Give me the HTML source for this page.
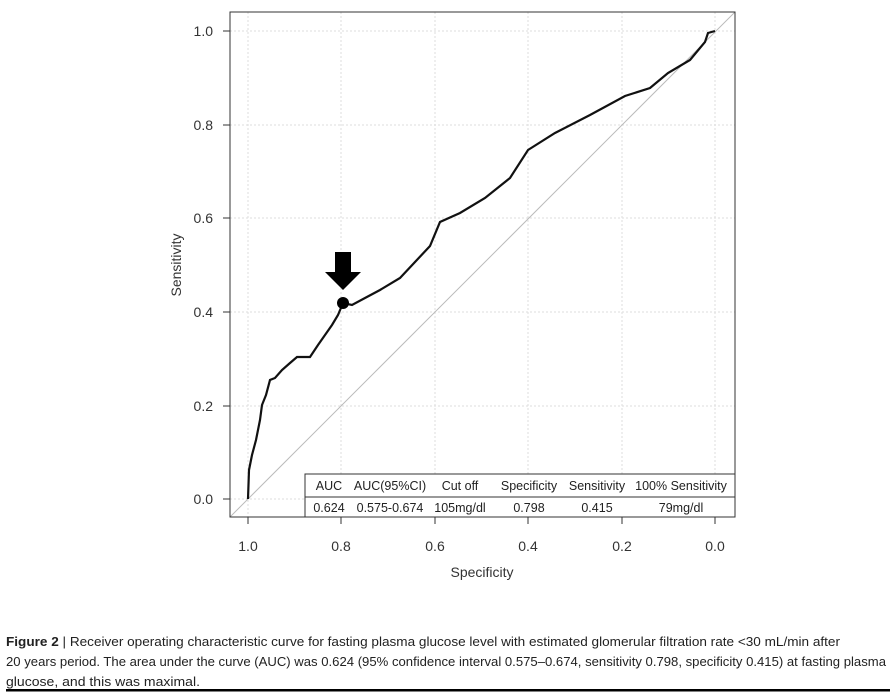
<!DOCTYPE html><html><head><style>body{margin:0;background:#fff;width:891px;height:694px;overflow:hidden}</style></head><body>
<svg width="891" height="694" xmlns="http://www.w3.org/2000/svg" font-family="Liberation Sans, sans-serif">
<g stroke="#ddd" stroke-dasharray="2,2" stroke-width="1">
<line x1="248" y1="12" x2="248" y2="517"/><line x1="341" y1="12" x2="341" y2="517"/><line x1="435" y1="12" x2="435" y2="517"/><line x1="528" y1="12" x2="528" y2="517"/><line x1="622" y1="12" x2="622" y2="517"/><line x1="715" y1="12" x2="715" y2="517"/>
<line x1="230" y1="31" x2="735" y2="31"/><line x1="230" y1="125" x2="735" y2="125"/><line x1="230" y1="218" x2="735" y2="218"/><line x1="230" y1="312" x2="735" y2="312"/><line x1="230" y1="406" x2="735" y2="406"/><line x1="230" y1="499" x2="735" y2="499"/>
</g>
<line x1="230" y1="517" x2="735" y2="12" stroke="#bbb"/>
<rect x="230" y="12" width="505" height="505" fill="none" stroke="#333"/>
<g stroke="#333">
<line x1="248" y1="517" x2="248" y2="524"/><line x1="341" y1="517" x2="341" y2="524"/><line x1="435" y1="517" x2="435" y2="524"/><line x1="528" y1="517" x2="528" y2="524"/><line x1="622" y1="517" x2="622" y2="524"/><line x1="715" y1="517" x2="715" y2="524"/>
<line x1="223" y1="31" x2="230" y2="31"/><line x1="223" y1="125" x2="230" y2="125"/><line x1="223" y1="218" x2="230" y2="218"/><line x1="223" y1="312" x2="230" y2="312"/><line x1="223" y1="406" x2="230" y2="406"/><line x1="223" y1="499" x2="230" y2="499"/>
</g>
<g font-size="14" fill="#333" text-anchor="middle">
<text x="248" y="551">1.0</text><text x="341" y="551">0.8</text><text x="435" y="551">0.6</text><text x="528" y="551">0.4</text><text x="622" y="551">0.2</text><text x="715" y="551">0.0</text>
<text x="482" y="577">Specificity</text>
</g>
<g font-size="14" fill="#333" text-anchor="end">
<text x="213" y="36">1.0</text><text x="213" y="130">0.8</text><text x="213" y="223">0.6</text><text x="213" y="317">0.4</text><text x="213" y="411">0.2</text><text x="213" y="504">0.0</text>
</g>
<text x="181" y="265" font-size="14" fill="#333" text-anchor="middle" transform="rotate(-90 181 265)">Sensitivity</text>
<polyline fill="none" stroke="#111" stroke-width="2.2" points="248,499 249,470 252,455 256,440 260,420 262,405 266,395 270,380 275,378 282,370 290,363 297,357 310,357 318,345 325,335 332,325 338,315 343,303 352,305 365,298 380,290 400,278 430,246 440,222 460,213 485,198 510,178 528,150 555,133 590,115 625,96 650,88 668,73 690,60 705,42 708,33 715,31"/>
<circle cx="343" cy="303" r="6" fill="#000"/>
<polygon points="335,252 351,252 351,272 361,272 343,290 325,272 335,272" fill="#000"/>
<rect x="305" y="474" width="430" height="43" fill="#fff" stroke="#333"/>
<line x1="305" y1="497" x2="735" y2="497" stroke="#333"/>
<g font-size="12.5" fill="#222" text-anchor="middle">
<text x="329" y="490">AUC</text><text x="390" y="490">AUC(95%CI)</text><text x="460" y="490">Cut off</text><text x="529" y="490">Specificity</text><text x="597" y="490">Sensitivity</text><text x="681" y="490">100% Sensitivity</text>
<text x="329" y="512">0.624</text><text x="390" y="512">0.575-0.674</text><text x="460" y="512">105mg/dl</text><text x="529" y="512">0.798</text><text x="597" y="512">0.415</text><text x="681" y="512">79mg/dl</text>
</g>
<g font-size="13" fill="#222">
<text x="6" y="646" textLength="834" lengthAdjust="spacingAndGlyphs"><tspan font-weight="bold">Figure 2</tspan> | Receiver operating characteristic curve for fasting plasma glucose level with estimated glomerular filtration rate &lt;30 mL/min after</text>
<text x="6" y="666" textLength="880" lengthAdjust="spacingAndGlyphs">20 years period. The area under the curve (AUC) was 0.624 (95% confidence interval 0.575–0.674, sensitivity 0.798, specificity 0.415) at fasting plasma</text>
<text x="6" y="686" textLength="194" lengthAdjust="spacingAndGlyphs">glucose, and this was maximal.</text>
</g>
<rect x="6" y="689" width="884" height="2.5" fill="#000"/>
</svg>
</body></html>
